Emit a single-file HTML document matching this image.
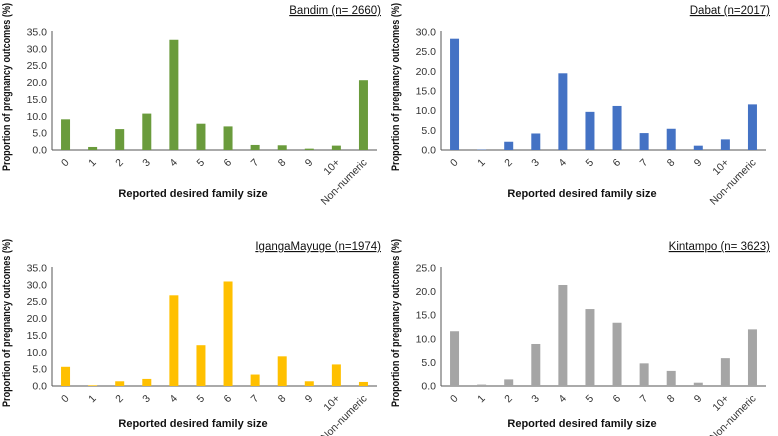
<!DOCTYPE html>
<html><head><meta charset="utf-8"><style>
body{margin:0;background:#fff;width:778px;height:436px;overflow:hidden}
svg{display:block;font-family:"Liberation Sans",sans-serif}
</style></head><body>
<svg id="s" width="778" height="436"></svg>
<script>
const categories=["0","1","2","3","4","5","6","7","8","9","10+","Non-numeric"];
const bandimValues=[9.1,0.9,6.2,10.8,32.7,7.8,7.0,1.5,1.4,0.4,1.3,20.7];
const dabatValues=[28.3,0.1,2.1,4.2,19.5,9.7,11.2,4.3,5.4,1.1,2.7,11.6];
const igangaValues=[5.7,0.2,1.4,2.1,26.9,12.1,31.0,3.4,8.8,1.4,6.4,1.2];
const kintampoValues=[11.6,0.3,1.4,8.9,21.4,16.3,13.4,4.8,3.2,0.7,5.9,12.0];
const bandimTicks=[0,5,10,15,20,25,30,35];
const dabatTicks=[0,5,10,15,20,25,30];
const igangaTicks=[0,5,10,15,20,25,30,35];
const kintampoTicks=[0,5,10,15,20,25];
const titles=["Bandim (n= 2660)","Dabat (n=2017)","IgangaMayuge (n=1974)","Kintampo (n= 3623)"];
const NS="http://www.w3.org/2000/svg";
const svg=document.getElementById('s');
function mk(t,a,p){const e=document.createElementNS(NS,t);for(const k in a)e.setAttribute(k,a[k]);(p||svg).appendChild(e);return e;}
function panel(ox,oy,vals,ticks,color,title,key,xtY){
  const g=mk('g',{});
  
  
  const x0=ox+52,x1=ox+377,yTop=oy+32,yBot=oy+150;
  const max=ticks[ticks.length-1];
  const y=v=>yBot-(v/max)*(yBot-yTop);
  const step=(x1-x0)/categories.length;
  const xc=i=>x0+step*(i+0.5);
  ticks.forEach(t=>{const tx=mk('text',{x:x0-5,y:y(t)+3.5,'text-anchor':'end','font-size':'10.5',fill:'#333'},g);tx.textContent=t.toFixed(1);
    });
  mk('line',{x1:x0,y1:yTop-1,x2:x0,y2:yBot,stroke:'#555','stroke-width':1},g);
  mk('line',{x1:x0,y1:yBot,x2:x1,y2:yBot,stroke:'#555','stroke-width':1},g);
  vals.forEach((v,i)=>{const r=mk('rect',{x:xc(i)-4.5,y:y(v),width:9,height:yBot-y(v),fill:color},g);
    });
  categories.forEach((c,i)=>{const tx=mk('text',{x:xc(i)+4,y:yBot+13,'text-anchor':'end','font-size':'10.5',fill:'#333',transform:`rotate(-45 ${xc(i)+4} ${yBot+13})`},g);tx.textContent=c;
    });
  const xt=mk('text',{x:ox+193,y:xtY,'text-anchor':'middle','font-size':'11','font-weight':'bold',fill:'#111'},g);xt.textContent='Reported desired family size';
  
  const yt=mk('text',{x:0,y:0,'text-anchor':'middle','font-size':'11','font-weight':'bold',fill:'#111',textLength:'168',lengthAdjust:'spacingAndGlyphs',transform:`translate(${ox+10} ${oy+87}) rotate(-90)`},g);yt.textContent='Proportion of pregnancy outcomes (%)';
  
  const tt=mk('text',{x:ox+381,y:oy+14,'text-anchor':'end','font-size':'11.5',fill:'#111','text-decoration':'underline'},g);tt.textContent=title;
  
}
panel(0,0,bandimValues,bandimTicks,'#6a9b3c',titles[0],'bandim',197);
panel(389,0,dabatValues,dabatTicks,'#4472c4',titles[1],'dabat',197);
panel(0,236,igangaValues,igangaTicks,'#ffc000',titles[2],'iganga',427);
panel(389,236,kintampoValues,kintampoTicks,'#a5a5a5',titles[3],'kintampo',427);
</script>
</body></html>
